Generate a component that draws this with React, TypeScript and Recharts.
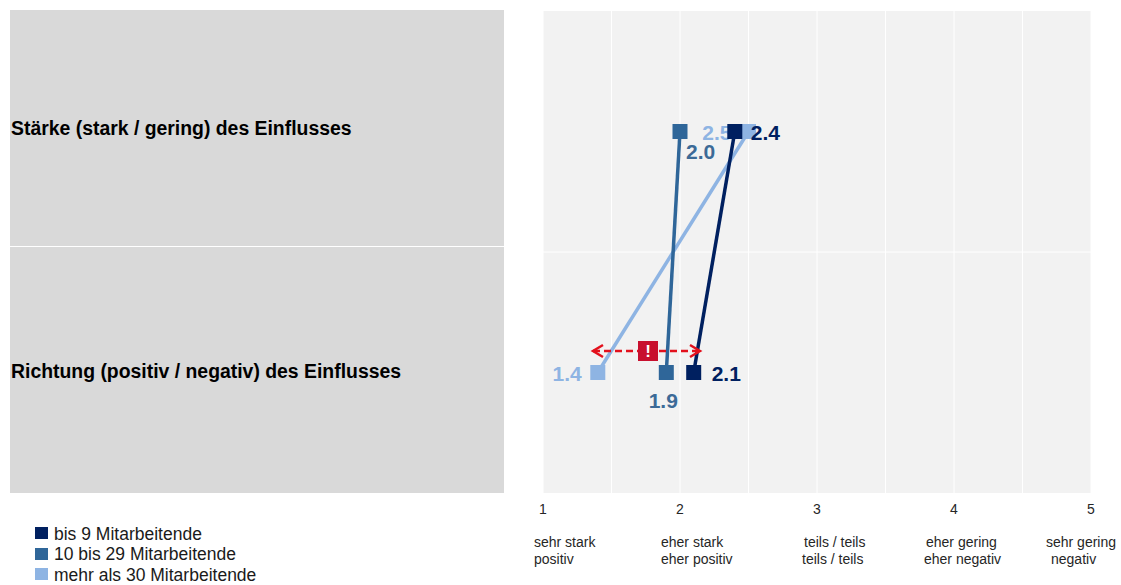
import React from 'react'
import { CartesianGrid, Line, LineChart, XAxis, YAxis } from 'recharts'

const categories = ['Stärke', 'Richtung']
const panelLabels = ['Stärke (stark / gering) des Einflusses', 'Richtung (positiv / negativ) des Einflusses']

const bis9 = [2.4, 2.1]
const bis29 = [2.0, 1.9]
const ab30 = [2.5, 1.4]

const scaleTicks = [1, 1.5, 2, 2.5, 3, 3.5, 4, 4.5, 5]
const scaleTop = ['sehr stark', 'eher stark', 'teils / teils', 'eher gering', 'sehr gering']
const scaleBottom = ['positiv', 'eher positiv', 'teils / teils', 'eher negativ', 'negativ']

const DARK = '#002060'
const MID = '#2f6699'
const LIGHT = '#8eb4e3'
const FONT = '"Liberation Sans", Arial, sans-serif'

const rows = categories.map((name, i) => ({ name, bis9: bis9[i], bis29: bis29[i], ab30: ab30[i] }))

// light series goes first so the darker squares sit on top of it
const series = [
  { key: 'ab30', color: LIGHT, labelColor: '#8eb4e3', offsets: [[-17, 1, 'end'], [-16, 1, 'end']] },
  { key: 'bis29', color: MID, labelColor: '#3c6a97', offsets: [[6, 20, 'start'], [-3, 28, 'middle']] },
  { key: 'bis9', color: DARK, labelColor: DARK, offsets: [[16, 1, 'start'], [18, 1, 'start']] },
]

const legendItems = [
  { label: 'bis 9 Mitarbeitende', color: DARK },
  { label: '10 bis 29 Mitarbeitende', color: MID },
  { label: 'mehr als 30 Mitarbeitende', color: LIGHT },
]

const topStart = [-9, -19, -13, -28, -45]
const bottomStart = [-9, -19, -15, -30, -40]

const SquareDot = ({ cx, cy, index, payload, seriesKey, color, labelColor, offsets }: any) => {
  const [dx, dy, anchor] = offsets[index]
  return (
    <g>
      <rect x={cx - 7.5} y={cy - 7.5} width={15} height={15} fill={color} />
      <text x={cx + dx} y={cy + dy} dy="0.35em" textAnchor={anchor} fontFamily={FONT} fontSize={21} fontWeight={700} fill={labelColor}>
        {payload[seriesKey].toFixed(1)}
      </text>
    </g>
  )
}

const ScaleTick = ({ x, y, payload }: any) => {
  const v = payload.value
  if (!Number.isInteger(v)) return null
  const i = v - 1
  return (
    <g fontFamily={FONT} fontSize={14} fill="#262626">
      <text x={x} y={y + 13} textAnchor="middle">{v}</text>
      <text x={x + topStart[i]} y={y + 46}>{scaleTop[i]}</text>
      <text x={x + bottomStart[i]} y={y + 63}>{scaleBottom[i]}</text>
    </g>
  )
}

export default function App() {
  return (
    <div style={{ position: 'absolute', left: 0, top: 0, width: 1121, height: 585, background: '#fff', fontFamily: FONT, overflow: 'hidden' }}>
      {/* grey panel with the row titles */}
      {panelLabels.map((label, i) => (
        <div
          key={label}
          style={{
            position: 'absolute', left: 10, top: i === 0 ? 10 : 247, width: 494, height: i === 0 ? 236 : 246,
            background: '#d9d9d9', display: 'flex', alignItems: 'center', boxSizing: 'border-box',
            paddingLeft: 1, fontSize: 19.4, fontWeight: 700, color: '#000', whiteSpace: 'nowrap',
          }}
        >
          <span style={{ position: 'relative', top: i === 0 ? 0 : 1 }}>{label}</span>
        </div>
      ))}

      <div style={{ position: 'absolute', left: 0, top: 0 }}>
        <LineChart width={1121} height={585} data={rows} layout="vertical" margin={{ top: 11, right: 30, bottom: 62, left: 543 }}>
          <CartesianGrid fill="#f2f2f2" stroke="#fff" strokeWidth={1} horizontalPoints={[252]} />
          <XAxis
            type="number"
            domain={[1, 5]}
            ticks={scaleTicks}
            interval={0}
            axisLine={false}
            tickLine={false}
            height={30}
            tick={<ScaleTick />}
          />
          <YAxis type="category" dataKey="name" hide width={0} padding={{ top: 120.5, bottom: 120.5 }} />
          {series.map((s) => (
            <Line
              key={s.key}
              dataKey={s.key}
              type="linear"
              stroke={s.color}
              strokeWidth={3.5}
              isAnimationActive={false}
              dot={(p: any) => <SquareDot key={`${s.key}-${p.index}`} {...p} seriesKey={s.key} color={s.color} labelColor={s.labelColor} offsets={s.offsets} />}
            />
          ))}
        </LineChart>
      </div>

      {/* dashed range arrow with warning badge */}
      <svg width={1121} height={585} style={{ position: 'absolute', left: 0, top: 0, pointerEvents: 'none' }}>
        <line x1={593} y1={351} x2={700} y2={351} stroke="#e3101c" strokeWidth={2.5} strokeDasharray="7 4" />
        <path d="M603 345 L593 351 L603 357 M690 345 L700 351 L690 357" fill="none" stroke="#e3101c" strokeWidth={2.5} />
        <rect x={638} y={341} width={20} height={20} fill="#c8102e" />
        <text x={648} y={357} textAnchor="middle" fontFamily={FONT} fontSize={17} fontWeight={700} fill="#fff">!</text>
      </svg>

      {legendItems.map((item, i) => (
        <div key={item.label} style={{ position: 'absolute', left: 35, top: 525 + i * 20.5, height: 18, display: 'flex', alignItems: 'center', fontSize: 17.5, color: '#1a1a1a', whiteSpace: 'nowrap' }}>
          <span style={{ width: 13, height: 12, background: item.color, marginRight: 6, position: 'relative', top: -1 }} />
          {item.label}
        </div>
      ))}
    </div>
  )
}
